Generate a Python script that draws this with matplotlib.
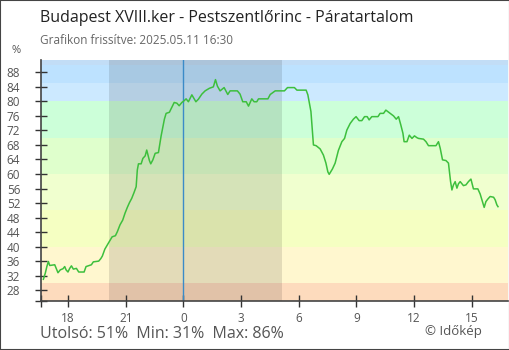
import matplotlib

matplotlib.use("Agg")
import matplotlib.pyplot as plt
from matplotlib.patches import Rectangle

plt.rcParams["font.family"] = ["Open Sans", "DejaVu Sans"]

# hours relative to midnight (negative = previous evening) and relative humidity, %
hours = [
    -7.29, -7.19, -7.11, -7.03, -6.96, -6.70, -6.61, -6.53, -6.41, -6.27,
    -6.18, -6.11, -6.01, -5.92, -5.83, -5.73, -5.57, -5.45, -5.17, -5.07,
    -4.79, -4.69, -4.41, -4.30, -4.22, -4.09, -4.01, -3.89, -3.71, -3.54,
    -3.44, -3.30, -3.16, -3.04, -2.92, -2.81, -2.69, -2.57, -2.46, -2.40,
    -2.34, -2.20, -2.11, -1.99, -1.91, -1.84, -1.77, -1.70, -1.59, -1.47,
    -1.30, -1.21, -1.16, -1.07, -0.99, -0.90, -0.73, -0.60, -0.48, -0.34,
    -0.22, -0.08, 0.04, 0.14, 0.26, 0.44, 0.65, 0.78, 0.96, 1.13,
    1.35, 1.56, 1.67, 1.77, 1.91, 2.12, 2.31, 2.43, 2.81, 2.95,
    3.09, 3.27, 3.39, 3.56, 3.68, 3.82, 3.91, 4.40, 4.52, 4.78,
    5.26, 5.42, 5.78, 5.91, 6.39, 6.48, 6.56, 6.64, 6.69, 6.77,
    6.91, 7.12, 7.29, 7.42, 7.52, 7.59, 7.76, 7.90, 8.07, 8.25,
    8.39, 8.51, 8.68, 8.85, 8.99, 9.15, 9.29, 9.43, 9.57, 9.67,
    9.81, 10.13, 10.24, 10.42, 10.54, 10.77, 10.94, 11.08, 11.20, 11.32,
    11.43, 11.49, 11.64, 11.76, 11.90, 12.03, 12.16, 12.24, 12.50, 12.63,
    12.76, 13.15, 13.28, 13.37, 13.42, 13.49, 13.67, 13.80, 13.85, 13.91,
    13.98, 14.06, 14.15, 14.24, 14.32, 14.41, 14.58, 14.71, 14.84, 14.97,
    15.05, 15.10, 15.33, 15.45, 15.57, 15.66, 15.75, 15.85, 15.97, 16.15,
    16.23, 16.32, 16.38,
]
humidity = [
    31.0, 32.7, 34.5, 35.9, 34.8, 35.0, 33.8, 32.8, 33.6, 33.9,
    34.5, 33.6, 33.0, 34.0, 34.7, 33.8, 34.0, 33.0, 33.0, 34.5,
    35.0, 35.8, 36.0, 36.7, 37.4, 39.3, 40.0, 41.1, 42.7, 43.0,
    44.1, 46.0, 47.3, 49.2, 50.8, 52.1, 53.3, 54.9, 56.5, 61.1,
    62.8, 62.8, 64.3, 65.0, 66.6, 65.2, 63.7, 62.8, 63.9, 65.7,
    65.9, 68.9, 70.5, 73.0, 75.1, 76.7, 77.0, 78.4, 79.7, 79.5,
    78.8, 79.7, 80.2, 80.7, 79.9, 81.8, 79.9, 80.6, 82.0, 82.9,
    83.6, 84.0, 86.0, 84.2, 82.9, 83.8, 81.9, 82.9, 82.9, 82.0,
    79.9, 79.9, 78.7, 80.7, 79.9, 79.9, 80.7, 80.7, 81.9, 82.9,
    82.9, 83.8, 83.8, 83.1, 83.1, 81.8, 79.5, 77.2, 73.5, 68.0,
    67.8, 66.9, 65.2, 63.0, 60.6, 59.9, 61.4, 63.0, 66.5, 68.9,
    69.8, 72.1, 73.9, 75.1, 75.8, 74.7, 74.7, 75.8, 75.8, 74.9,
    75.8, 75.8, 76.7, 76.7, 77.6, 76.7, 76.0, 75.1, 75.8, 73.5,
    71.2, 68.9, 68.9, 70.7, 69.8, 70.5, 70.0, 69.8, 69.6, 68.9,
    67.8, 67.8, 68.9, 67.1, 65.7, 63.9, 63.7, 63.0, 60.6, 57.9,
    55.6, 57.0, 57.9, 56.1, 57.3, 57.9, 56.8, 57.0, 57.9, 58.6,
    57.0, 55.9, 55.9, 54.5, 52.4, 50.8, 52.4, 53.1, 53.8, 53.6,
    52.9, 51.5, 51.0,
]

# background humidity bands: (lower, upper, colour)
band_edges = [0, 30, 40, 50, 60, 70, 80, 85, 90, 100]
band_colors = ["#fddbbd", "#fff7cf", "#f5ffc2", "#f0ffcf", "#dfffcc",
               "#ccffd9", "#cce9ff", "#bde2ff", "#c2ddf6"]

x_ticks = [-7.43, -6, -3, 0, 3, 6, 9, 12, 15]
x_labels = ["", "18", "21", "0", "3", "6", "9", "12", "15"]
y_ticks = [25.1] + list(range(28, 89, 4))
y_labels = [""] + [str(v) for v in range(28, 89, 4)]

night_start, night_end = -3.87, 5.14

fig = plt.figure(figsize=(5.1, 3.5), dpi=100)
ax = fig.add_axes([40.7 / 510, 49.3 / 350, 467.3 / 510, 240.7 / 350])

for lo, hi, col, in zip(band_edges[:-1], band_edges[1:], band_colors):
    ax.axhspan(lo, hi, color=col, lw=0, zorder=0)
ax.axvspan(night_start, night_end, color="black", alpha=0.11, lw=0, zorder=1)
ax.axvline(0, color="#3b8bc8", lw=1.0, zorder=2)

ax.plot(hours, humidity, color="#3dbf3d", lw=1.1, zorder=3)

ax.set_xlim(-7.43, 16.9)
ax.set_ylim(25.1, 91.4)
ax.set_xticks(x_ticks, x_labels)
ax.set_yticks(y_ticks, y_labels)
ax.tick_params(direction="inout", length=9, width=1.0, color="#333333",
               labelcolor="#555555", labelsize=8.5)
ax.tick_params(axis="y", pad=10.2)
ax.tick_params(axis="x", pad=3.5)
for side in ("top", "right"):
    ax.spines[side].set_visible(False)
for side in ("left", "bottom"):
    ax.spines[side].set_color("#444444")
    ax.spines[side].set_linewidth(1.2)

fig.text(40 / 510, 1 - 17.5 / 350, "Budapest XVIII.ker - Pestszentlőrinc - Páratartalom",
         fontsize=11.5, color="#222222", va="center", ha="left")
fig.text(40 / 510, 1 - 40.5 / 350, "Grafikon frissítve: 2025.05.11 16:30",
         fontsize=8.5, color="#666666", va="center", ha="left")
fig.text(16.5 / 510, 1 - 50.5 / 350, "%", fontsize=8, color="#555555",
         va="center", ha="center")

summary = (f"Utolsó: {humidity[-1]:.0f}%  Min: {min(humidity):.0f}%  "
           f"Max: {max(humidity):.0f}%")
fig.text(40.5 / 510, 1 - 333.5 / 350, summary, fontsize=11.5, color="#555555",
         va="center", ha="left")
fig.text(482 / 510, 1 - 331 / 350, "© Időkép", fontsize=9.5, color="#555555",
         va="center", ha="right")

fig.patches.append(Rectangle((0, 0), 1, 1, transform=fig.transFigure, fill=False,
                             edgecolor="#444444", lw=1.5, zorder=10))

fig.savefig("out.png", dpi=100)
